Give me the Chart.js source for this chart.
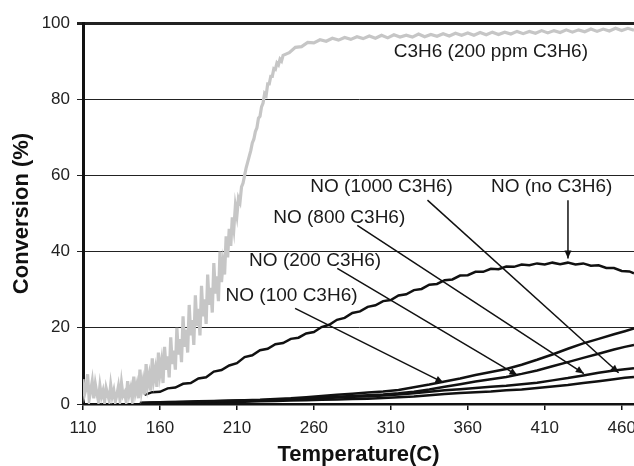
<!DOCTYPE html>
<html>
<head>
<meta charset="utf-8">
<script src="https://cdn.jsdelivr.net/npm/chart.js@4/dist/chart.umd.min.js"></script>
<style>
  html, body { margin: 0; padding: 0; background: #fff; }
  #wrap { width: 634px; height: 466px; }
</style>
</head>
<body>
<div id="wrap"><canvas id="convChart"></canvas></div>
<script>
// axis ticks
const xTicks = [110, 160, 210, 260, 310, 360, 410, 460];
const yTicks = [0, 20, 40, 60, 80, 100];

// C3H6 conversion, 200 ppm C3H6 (grey, noisy)
const c3h6Temp = [
  110, 111, 112, 113, 114, 115, 116, 117, 118, 119, 120, 121, 122, 123, 124, 125, 126, 127, 128, 129,
  130, 131, 132, 133, 134, 135, 136, 137, 138, 139, 140, 141, 142, 143, 144, 145, 146, 147, 148, 149,
  150, 151, 152, 153, 154, 155, 156, 157, 158, 159, 160, 161, 162, 163, 164, 165, 166, 167, 168, 169,
  170, 171, 172, 173, 174, 175, 176, 177, 178, 179, 180, 181, 182, 183, 184, 185, 186, 187, 188, 189,
  190, 191, 192, 193, 194, 195, 196, 197, 198, 199, 200, 201, 202, 203, 204, 205, 206, 207, 208, 209,
  210, 211, 212, 213, 214, 215, 216, 217, 218, 219, 220, 221, 222, 223, 224, 225, 226, 227, 228, 229,
  230, 231, 232, 233, 234, 235, 236, 237, 238, 239, 240,
  244, 248, 252, 256, 260, 264, 268, 272, 276, 280, 284, 288, 292, 296, 300, 304, 308, 312, 316, 320,
  324, 328, 332, 336, 340, 344, 348, 352, 356, 360, 364, 368, 372, 376, 380, 384, 388, 392, 396, 400,
  404, 408, 412, 416, 420, 424, 428, 432, 436, 440, 444, 448, 452, 456, 460, 464, 468
];
const c3h6Conv = [
  6.5, 2.5, 4, 7.8, 1.2, 3.5, 6, 1.5, 5.2, 2.8, 0.8, 4.8, 2, 3.5, 0.6, 4.2, 2.5, 1, 5, 2,
  3.6, 0.7, 2.4, 4.6, 1.2, 5.5, 2.2, 3, 0.8, 6, 2.5, 4.2, 1.2, 7.2, 3, 5, 1.5, 9, 3.5, 6,
  2.5, 10.5, 5, 7.5, 3.5, 12, 6.5, 9, 4.5, 13.5, 8, 11, 5.5, 15, 9, 12.5, 7, 17.5, 10.5, 14,
  9, 20, 13, 17, 11, 23, 15, 19.5, 13.5, 26, 18, 22, 15.5, 28.5, 20.5, 25, 18, 31, 23, 27.5,
  21, 34, 26, 30.5, 24, 37, 29, 33.5, 27, 40, 32, 37, 34, 44, 38.5, 46, 41.5, 49, 46, 52,
  49.5, 54, 53, 57, 58, 60, 62, 63.5, 65, 66.5, 68.5, 69.5, 71.5, 72.5, 75, 75.5, 78, 79, 81.5, 81,
  84, 84, 86, 86, 88, 87.8, 89.5, 89, 90.5, 90, 91.5,
  92.2, 93.6, 93.8, 94.9, 94.8, 95.6, 95.2, 96, 95.5, 96.2, 95.7, 96.4, 95.9, 96.6, 96, 96.8, 96.1, 96.9, 96.3, 96.8,
  96.3, 97.1, 96.4, 97, 96.5, 97.2, 96.6, 97.3, 96.8, 97.4, 96.8, 97.5, 96.9, 97.6, 97, 97.6, 97.1, 97.8, 97.2, 97.8,
  97.3, 98, 97.4, 98, 97.5, 98.2, 97.6, 98.2, 97.7, 98.4, 97.8, 98.4, 97.9, 98.6, 98, 98.6, 98.1
];

// NO conversion without C3H6
const noNoneTemp = [
  150, 155, 160, 165, 170, 175, 180, 185, 190, 195, 200, 205, 210, 215, 220, 225, 230, 235, 240, 245,
  250, 255, 260, 265, 270, 275, 280, 285, 290, 295, 300, 305, 310, 315, 320, 325, 330, 335, 340, 345,
  350, 355, 360, 365, 370, 375, 380, 385, 390, 395, 400, 405, 410, 415, 420, 425, 430, 435, 440, 445,
  450, 455, 460, 465, 468
];
const noNone = [
  2.4, 3.1, 3.2, 4.1, 4.3, 5.3, 5.5, 6.7, 7.0, 8.5, 8.9, 10.1, 10.7, 12.3, 12.8, 14.1, 14.5, 15.7, 16.0, 17.1,
  17.4, 18.5, 18.9, 20.2, 20.8, 22.1, 22.6, 23.9, 24.3, 25.5, 25.9, 27.0, 27.3, 28.5, 28.8, 29.9, 30.2, 31.3, 31.5, 32.5,
  32.7, 33.7, 33.8, 34.7, 34.7, 35.5, 35.4, 36.1, 36.0, 36.6, 36.4, 36.9, 36.6, 37.1, 36.7, 37.1, 36.6, 36.9, 36.3, 36.4,
  35.7, 35.7, 34.9, 34.8, 34.3
];

// NO conversion with 100 / 200 / 800 / 1000 ppm C3H6
const noLowTemp = [
  147, 155, 165, 175, 185, 195, 205, 215, 225, 235, 245, 255, 265, 275, 285, 295, 305, 315, 325, 335,
  345, 355, 365, 375, 385, 395, 405, 415, 425, 435, 445, 455, 462, 468
];
const no100 = [
  0.3, 0.4, 0.5, 0.6, 0.7, 0.8, 0.9, 1.0, 1.1, 1.3, 1.5, 1.8, 2.1, 2.4, 2.7, 3.0, 3.3, 3.7, 4.4, 5.1,
  5.9, 6.7, 7.6, 8.4, 9.2, 10.3, 11.6, 13.0, 14.5, 15.9, 17.1, 18.3, 19.1, 19.8
];
const no200 = [
  0.2, 0.3, 0.4, 0.5, 0.6, 0.7, 0.8, 0.9, 1.0, 1.1, 1.3, 1.5, 1.7, 1.9, 2.1, 2.3, 2.5, 2.8, 3.2, 3.8,
  4.5, 5.2, 5.9, 6.5, 7.1, 7.9, 8.8, 9.9, 11.0, 12.1, 13.2, 14.3, 15.0, 15.5
];
const no800 = [
  0.2, 0.3, 0.3, 0.4, 0.5, 0.6, 0.7, 0.8, 0.9, 1.0, 1.2, 1.3, 1.5, 1.7, 1.9, 2.0, 2.2, 2.5, 2.8, 3.2,
  3.6, 3.9, 4.2, 4.5, 4.8, 5.2, 5.6, 6.2, 6.8, 7.5, 8.2, 8.8, 9.1, 9.4
];
const no1000 = [
  0.1, 0.2, 0.2, 0.3, 0.4, 0.4, 0.5, 0.6, 0.7, 0.8, 0.9, 1.0, 1.1, 1.2, 1.3, 1.4, 1.6, 1.8, 2.0, 2.3,
  2.6, 2.9, 3.1, 3.3, 3.6, 3.8, 4.2, 4.6, 5.0, 5.5, 6.0, 6.5, 6.9, 7.1
];

// text labels and arrows (data coordinates)
const noteLabels = [
  { text: 'C3H6 (200 ppm C3H6)', x: 375, y: 92.4 },
  { text: 'NO (1000 C3H6)', x: 304, y: 56.9 },
  { text: 'NO (no C3H6)', x: 414.5, y: 56.9 },
  { text: 'NO (800 C3H6)', x: 276.5, y: 49 },
  { text: 'NO (200 C3H6)', x: 260.8, y: 37.7 },
  { text: 'NO (100 C3H6)', x: 245.5, y: 28.5 }
];
const noteArrows = [
  { from: [333.8, 53.5], to: [458, 8.2] },
  { from: [288.2, 46.9], to: [435.4, 8.0] },
  { from: [275.2, 35.6], to: [392.3, 7.5] },
  { from: [247.8, 25.1], to: [344.2, 5.6] },
  { from: [425.1, 53.5], to: [425.1, 38.2] }
];

function pairs(xs, ys) {
  return xs.map((x, i) => ({ x: x, y: ys[i] }));
}

const notesPlugin = {
  id: 'notes',
  afterDatasetsDraw(chart) {
    const ctx = chart.ctx;
    const sx = chart.scales.x, sy = chart.scales.y;
    ctx.save();
    ctx.strokeStyle = '#111';
    ctx.fillStyle = '#111';
    ctx.lineWidth = 1.5;
    noteArrows.forEach(a => {
      const x1 = sx.getPixelForValue(a.from[0]), y1 = sy.getPixelForValue(a.from[1]);
      const x2 = sx.getPixelForValue(a.to[0]), y2 = sy.getPixelForValue(a.to[1]);
      const ang = Math.atan2(y2 - y1, x2 - x1);
      ctx.beginPath();
      ctx.moveTo(x1, y1);
      ctx.lineTo(x2, y2);
      ctx.stroke();
      ctx.beginPath();
      ctx.moveTo(x2, y2);
      ctx.lineTo(x2 - 8 * Math.cos(ang) + 3.5 * Math.sin(ang), y2 - 8 * Math.sin(ang) - 3.5 * Math.cos(ang));
      ctx.lineTo(x2 - 8 * Math.cos(ang) - 3.5 * Math.sin(ang), y2 - 8 * Math.sin(ang) + 3.5 * Math.cos(ang));
      ctx.closePath();
      ctx.fill();
    });
    ctx.font = '19px "Liberation Sans", Arial, sans-serif';
    ctx.fillStyle = '#1a1a1a';
    ctx.textAlign = 'center';
    ctx.textBaseline = 'middle';
    noteLabels.forEach(l => {
      ctx.fillText(l.text, sx.getPixelForValue(l.x), sy.getPixelForValue(l.y));
    });
    ctx.restore();
  }
};

const noStyle = { borderColor: '#111', borderWidth: 2.5, pointRadius: 0, tension: 0, fill: false };

new Chart(document.getElementById('convChart'), {
  type: 'line',
  data: {
    datasets: [
      { label: 'C3H6 (200 ppm C3H6)', data: pairs(c3h6Temp, c3h6Conv), borderColor: '#c6c6c6', borderWidth: 3.2, pointRadius: 0, tension: 0, fill: false },
      Object.assign({ label: 'NO (no C3H6)', data: pairs(noNoneTemp, noNone) }, noStyle),
      Object.assign({ label: 'NO (100 C3H6)', data: pairs(noLowTemp, no100) }, noStyle),
      Object.assign({ label: 'NO (200 C3H6)', data: pairs(noLowTemp, no200) }, noStyle),
      Object.assign({ label: 'NO (800 C3H6)', data: pairs(noLowTemp, no800) }, noStyle),
      Object.assign({ label: 'NO (1000 C3H6)', data: pairs(noLowTemp, no1000) }, noStyle)
    ]
  },
  options: {
    responsive: true,
    maintainAspectRatio: false,
    animation: false,
    layout: { padding: { top: 23, right: 0, bottom: 0, left: 0 } },
    plugins: {
      legend: { display: false },
      tooltip: { enabled: false }
    },
    scales: {
      x: {
        type: 'linear',
        min: 110,
        max: 468,
        afterBuildTicks: s => { s.ticks = xTicks.map(v => ({ value: v })); },
        afterFit: s => { s.height = 62; s.paddingLeft = 0; s.paddingRight = 0; },
        grid: { drawOnChartArea: false, drawTicks: true, tickLength: 6, color: '#111', lineWidth: 1.5 },
        border: { display: true, color: '#111', width: 2.5 },
        ticks: { padding: 8, color: '#222', font: { family: '"Liberation Sans", Arial, sans-serif', size: 17 }, maxRotation: 0 },
        title: {
          display: true,
          text: 'Temperature(C)',
          color: '#111',
          padding: { top: 0, bottom: 0 },
          font: { family: '"Liberation Sans", Arial, sans-serif', size: 22, weight: 'bold', lineHeight: 1 }
        }
      },
      y: {
        min: 0,
        max: 100,
        afterBuildTicks: s => { s.ticks = yTicks.map(v => ({ value: v })); },
        afterFit: s => { s.width = 83; s.paddingTop = 0; s.paddingBottom = 0; },
        grid: {
          drawTicks: true,
          tickLength: 6,
          color: '#222',
          lineWidth: c => (c.tick && c.tick.value === 100 ? 3 : 1)
        },
        border: { display: true, color: '#111', width: 3 },
        ticks: { padding: 7, color: '#222', font: { family: '"Liberation Sans", Arial, sans-serif', size: 17 } },
        title: {
          display: true,
          text: 'Conversion (%)',
          color: '#111',
          padding: { top: 9, bottom: 0 },
          font: { family: '"Liberation Sans", Arial, sans-serif', size: 22, weight: 'bold', lineHeight: 1.2 }
        }
      }
    }
  },
  plugins: [notesPlugin]
});
</script>
</body>
</html>
